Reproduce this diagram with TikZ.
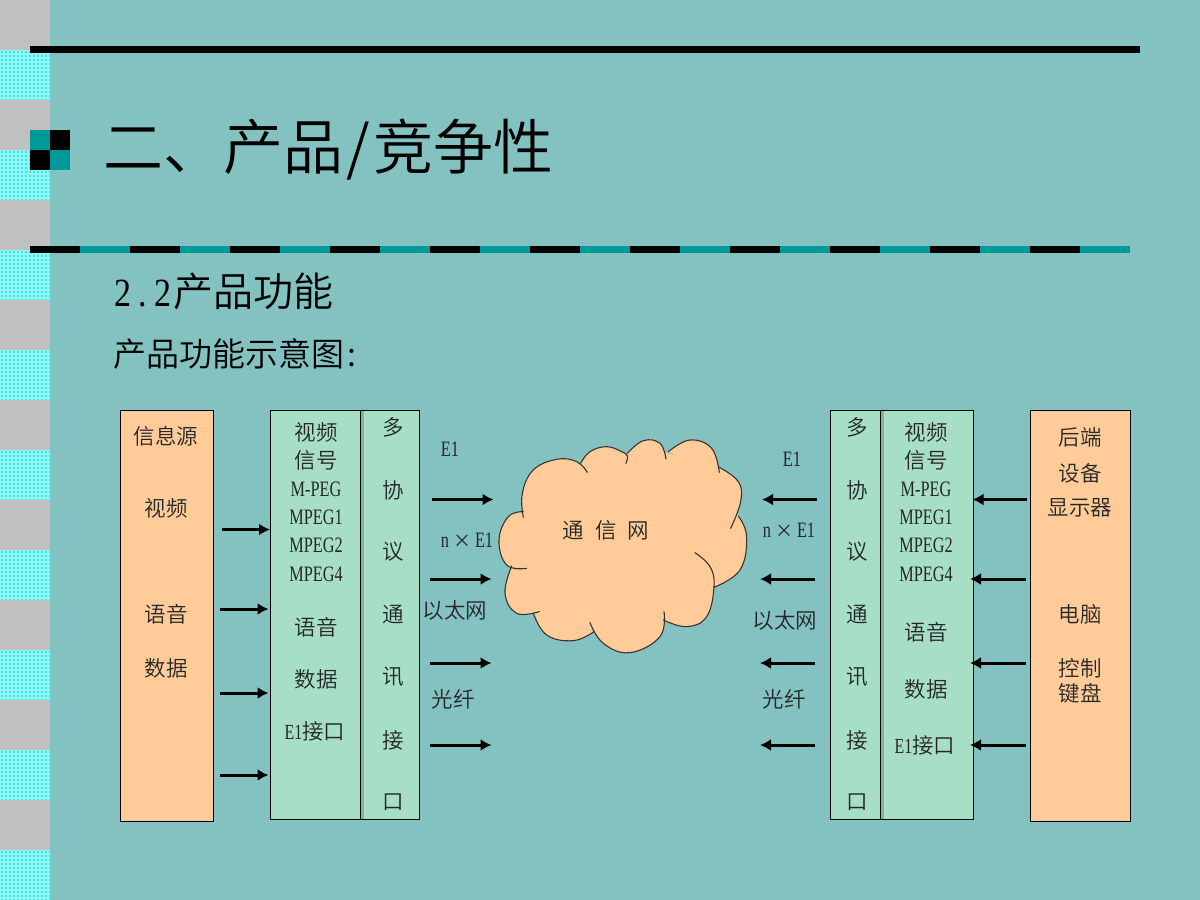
\documentclass[tikz,border=0pt]{standalone}
\usepackage{fontspec}
\setmainfont{Noto Sans CJK SC DemiLight}
\newfontfamily\latinser[FakeStretch=0.74]{Liberation Serif}
\newfontfamily\headser[FakeStretch=0.85]{Liberation Serif}
\definecolor{bgc}{HTML}{84C1C1}
\definecolor{stripg}{HTML}{C0C0C0}
\definecolor{stripc}{HTML}{88F8F8}
\definecolor{stripd}{HTML}{55DDDD}
\definecolor{tealc}{HTML}{009999}
\definecolor{orangec}{HTML}{FFCC99}
\definecolor{greenc}{HTML}{A6DFC6}
\definecolor{bandc}{HTML}{7FB59B}
\definecolor{inkc}{HTML}{262626}
\definecolor{linec}{HTML}{333333}
\usetikzlibrary{arrows.meta}
\tikzset{
  srcbox/.style={draw=black,line width=1.1pt,fill=orangec,inner sep=0pt,outer sep=0pt,anchor=north west},
  gbox/.style={draw=black,line width=1.1pt,fill=greenc,inner sep=0pt,outer sep=0pt,anchor=north west},
  lab/.style={inner sep=0pt,text=inkc,font=\fontsize{21.5}{24}\selectfont},
  ser/.style={inner sep=0pt,text=inkc,font=\fontsize{22}{24}\latinser},
  flow/.style={line width=3pt,-{Latex[length=11pt,width=12pt]}},
  divl/.style={draw=black,line width=1.1pt},
  band/.style={fill=bandc,draw=none},
  cloudfill/.style={fill=orangec,draw=orangec,line width=0.8pt},
  cloudline/.style={draw=linec,line width=1.1pt,line cap=round},
}
\newcommand\lobes{%
  \lobe{(100,262)(97,190)(130,120)(200,88)(260,95)(292,127)}%
  \lobe{(272,100)(300,65)(350,50)(395,65)(412,78)(408,100)}%
  \lobe{(412,70)(460,32)(510,40)(528,87)}%
  \lobe{(535,65)(600,30)(665,55)(688,127)}%
  \lobe{(688,112)(745,155)(752,215)(722,295)}%
  \lobe{(745,258)(770,320)(750,420)(672,472)}%
  \lobe{(615,368)(660,410)(672,470)(650,560)(590,590)(520,570)}%
  \lobe{(522,545)(510,620)(420,668)(340,640)(300,578)}%
  \lobe{(312,605)(250,632)(170,615)(130,550)}%
  \lobe{(148,545)(80,550)(45,490)(65,408)}%
  \lobe{(110,415)(50,405)(27,330)(55,260)(100,245)}%
}
\begin{document}
\begin{tikzpicture}[x=1pt,y=-1pt]
\useasboundingbox (0,0) rectangle (1200,900);
\fill[bgc] (0,0) rectangle (1200,900);
% side strip
\foreach \i in {0,...,8}{
  \pgfmathsetmacro\ya{\i*100}
  \fill[stripg] (0,\ya) rectangle (50,\ya+50);
  \fill[stripc] (0,\ya+50) rectangle (50,\ya+100);
  \foreach \a in {1,5,...,49}{
    \foreach \b in {51,55,...,99}{
      \fill[stripd] (\a,\ya+\b) rectangle (\a+2,\ya+\b+2);
    }
  }
}
% rules
\fill[black] (30,46) rectangle (1140,53);
\foreach \i in {0,...,10}{
  \pgfmathsetmacro\xa{30+\i*100}
  \fill[black] (\xa,246) rectangle (\xa+50,253);
  \fill[tealc] (\xa+50,246) rectangle (\xa+100,253);
}
% emblem
\fill[tealc] (30,130) rectangle (50,150);
\fill[black] (50,130) rectangle (70,150);
\fill[black] (30,150) rectangle (50,170);
\fill[tealc] (50,150) rectangle (70,170);
% headings
\node[anchor=west,inner sep=0pt,font=\fontsize{60}{66}\selectfont] (title) at (103,150) {二、产品\makebox[30pt]{/}竞争性};
\node[anchor=west,inner sep=0pt,font=\fontsize{40}{44}\selectfont] (sub) at (113,291) {{\fontsize{40}{44}\headser\makebox[20pt]{2}\makebox[20pt]{.}\makebox[20pt]{2}}产品功能};
\node[anchor=west,inner sep=0pt,font=\fontsize{33}{38}\selectfont] (sub2) at (113,354) {产品功能示意图\makebox[16.5pt]{:}};
% boxes
\node[srcbox,minimum width=93,minimum height=411] (srcL) at (120.5,410.5) {};
\node[gbox,minimum width=149,minimum height=409] (gL) at (270.5,410.5) {};
\fill[band] (361,411) rectangle (363.5,819);
\draw[divl] (360.5,410.5) -- (360.5,819.5);
\node[gbox,minimum width=143,minimum height=409] (gR) at (830.5,410.5) {};
\fill[band] (881,411) rectangle (883.5,819);
\draw[divl] (880.5,410.5) -- (880.5,819.5);
\node[srcbox,minimum width=100,minimum height=411] (srcR) at (1030.5,410.5) {};
% cloud
\begin{scope}[shift={(490,430)},x=0.3333pt,y=-0.3333pt]
  \def\lobe#1{\fill[cloudfill] plot[smooth,tension=0.7] coordinates {#1} -- cycle;}
  \lobes
  \fill[cloudfill] (100,245)--(272,100)--(410,75)--(530,70)--(688,115)--(745,258)--(672,472)--(520,570)--(310,600)--(130,550)--(60,408)--cycle;
  \def\lobe#1{\draw[cloudline] plot[smooth,tension=0.7] coordinates {#1};}
  \lobes
\end{scope}
\node[lab] (net) at (606,530) {通\hspace{11pt}信\hspace{11pt}网};
% left source column
\node[lab] (s1) at (166,436) {信息源};
\node[lab] (s2) at (166,508) {视频};
\node[lab] (s3) at (166,614.5) {语音};
\node[lab] (s4) at (166,668) {数据};
% left video column
\node[lab] (l1) at (316,432) {视频};
\node[lab] (l2) at (316,460) {信号};
\node[ser] (l3) at (316,489) {M-PEG};
\node[ser] (l4) at (316,517) {MPEG1};
\node[ser] (l5) at (316,545) {MPEG2};
\node[ser] (l6) at (316,574) {MPEG4};
\node[lab] (l7) at (316,627) {语音};
\node[lab] (l8) at (316,679) {数据};
\node[lab] (l9) at (315,731) {{\latinser E1}接口};
% protocol columns
\foreach \c/\t/\y in {a/多/427,b/协/490,c/议/552,d/通/615,e/讯/677,f/接/740,g/口/802}{
  \node[lab] (pl\c) at (393,\y) {\t};
  \node[lab] (pr\c) at (857,\y) {\t};
}
% right video column
\node[lab] (r1) at (926,432) {视频};
\node[lab] (r2) at (926,460) {信号};
\node[ser] (r3) at (926,489) {M-PEG};
\node[ser] (r4) at (926,517) {MPEG1};
\node[ser] (r5) at (926,545) {MPEG2};
\node[ser] (r6) at (926,574) {MPEG4};
\node[lab] (r7) at (926,632) {语音};
\node[lab] (r8) at (926,689) {数据};
\node[lab] (r9) at (925,745) {{\latinser E1}接口};
% right source column
\node[lab] (d1) at (1080,437) {后端};
\node[lab] (d2) at (1080,473) {设备};
\node[lab] (d3) at (1080,508) {显示器};
\node[lab] (d4) at (1080,614) {电脑};
\node[lab] (d5) at (1080,668) {控制};
\node[lab] (d6) at (1080,693) {键盘};
% link labels
\node[ser] (le1) at (450,449) {E1};
\node[ser] (ln1) at (467,540) {n\hspace{4pt}{\fontspec{Noto Sans CJK SC}\fontsize{18}{20}\selectfont ×}\hspace{4pt}E1};
\node[lab] (le2) at (455,610) {以太网};
\node[lab] (lf1) at (453,699) {光纤};
\node[ser] (re1) at (792,459) {E1};
\node[ser] (rn1) at (789,530) {n\hspace{4pt}{\fontspec{Noto Sans CJK SC}\fontsize{18}{20}\selectfont ×}\hspace{4pt}E1};
\node[lab] (re2) at (785,620) {以太网};
\node[lab] (rf1) at (784,699) {光纤};
% arrows
\foreach \n/\xa/\xb/\y in {
  a/221.5/270/529.5, b/220/268.5/609, c/220/268.5/693, d/220/268.5/775,
  e/432/493.5/499.5, f/430/491.5/579, g/430/491.5/663, h/430/491.5/745,
  i/816.5/762/499.5, j/815/760/579, k/815/760/663, l/815/760/745,
  m/1027/972.5/499.5, n/1025.5/970/579, o/1025.5/970/663, p/1025.5/970/745}{
  \coordinate (\n s) at (\xa,\y);
  \coordinate (\n e) at (\xb,\y);
  \draw[flow] (\n s) -- (\n e);
}
\end{tikzpicture}
\end{document}
